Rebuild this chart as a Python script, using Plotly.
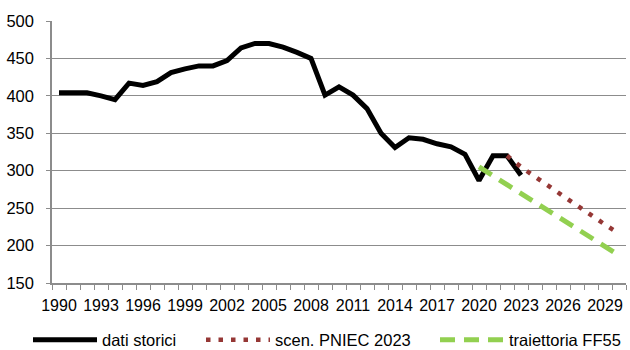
import plotly.graph_objects as go

years_hist = list(range(1990, 2024))
dati_storici = [404, 404, 404, 400, 395, 417, 414, 419, 431, 436, 440, 440, 447, 464, 470,
                470, 465, 458, 450, 401, 412, 401, 383, 350, 331, 344, 342, 336, 332, 322,
                287, 320, 320, 294]
years_pniec = list(range(2022, 2031))
scen_pniec = [320, 305, 292, 279, 266, 253, 241, 228, 216]
years_ff55 = list(range(2020, 2031))
traiettoria_ff55 = [305, 293, 281, 269, 258, 246, 234, 222, 211, 199, 187]
x_ticks = list(range(1990, 2030, 3))
y_ticks = [150, 200, 250, 300, 350, 400, 450, 500]

W, H = 630, 350
ML, MR, MT, MB = 52, 4, 21, 67
PW = W - ML - MR
PH = H - MT - MB


def px_x(p):
    return (p - ML) / PW


def px_y(p):
    return (H - MB - p) / PH


fig = go.Figure()
fig.add_trace(go.Scatter(x=years_hist, y=dati_storici, mode="lines", name="dati storici",
                         legend="legend",
                         line=dict(color="#000000", width=5)))
fig.add_trace(go.Scatter(x=years_pniec, y=scen_pniec, mode="lines", name="scen. PNIEC 2023",
                         legend="legend2",
                         line=dict(color="#953735", width=4.5, dash="4.5px,8px")))
fig.add_trace(go.Scatter(x=years_ff55, y=traiettoria_ff55, mode="lines", name="traiettoria FF55",
                         legend="legend3",
                         line=dict(color="#92D050", width=5, dash="15px,9px")))

grid = "#8c8c8c"
leg_common = dict(orientation="h", yanchor="middle", y=px_y(340), xanchor="left",
                  itemwidth=64, font=dict(size=16.5), bgcolor="rgba(0,0,0,0)",
                  borderwidth=0)
fig.update_layout(
    width=W, height=H,
    margin=dict(l=ML, r=MR, t=MT, b=MB, autoexpand=False),
    paper_bgcolor="white", plot_bgcolor="white",
    font=dict(family="Liberation Sans, Arial, sans-serif", size=16.5, color="#000000"),
    showlegend=True,
    legend=dict(x=px_x(28), **leg_common),
    legend2=dict(x=px_x(201), **leg_common),
    legend3=dict(x=px_x(435), **leg_common),
    xaxis=dict(range=[1989.5, 2030.5], tickvals=x_ticks, ticktext=[str(v) for v in x_ticks],
               ticks="", showgrid=False, showline=True, linecolor=grid, linewidth=1.5,
               zeroline=False, ticklabelstandoff=7,
               tickfont=dict(family="Liberation Sans Narrow, Arial Narrow, Liberation Sans", size=16),
               minor=dict(tick0=1989.5, dtick=1, ticks="outside", ticklen=5,
                          tickcolor=grid, tickwidth=1, showgrid=False)),
    yaxis=dict(range=[150, 500], tickvals=y_ticks, showgrid=True, gridcolor=grid, gridwidth=1.3,
               showline=True, linecolor=grid, linewidth=1.5, ticks="outside", ticklen=4,
               tickcolor=grid, zeroline=False, ticklabelstandoff=9,
               tickfont=dict(size=16.5)),
)
fig.write_html("out.html")
